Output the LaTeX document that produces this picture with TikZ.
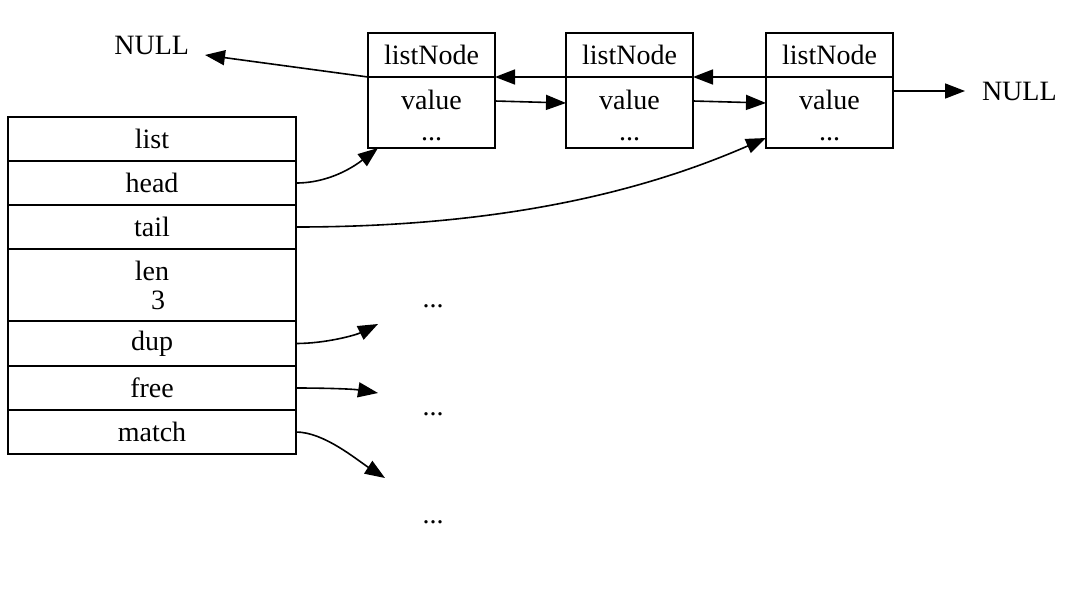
\documentclass[tikz,border=0pt]{standalone}
\usepackage{fontspec}
\setmainfont{Liberation Serif}
\usetikzlibrary{arrows.meta}
\begin{document}
\begin{tikzpicture}[x=0.5pt,y=-0.5pt,
  every node/.style={font=\fontsize{14}{15.5}\selectfont},
  field/.style={draw, line width=0.8pt, minimum width=144pt, minimum height=22pt,
    inner sep=0pt, outer sep=0pt, anchor=north west, align=center},
  nodehead/.style={draw, line width=0.8pt, minimum width=63.5pt, minimum height=22pt,
    inner sep=0pt, outer sep=0pt, anchor=north west},
  nodebody/.style={draw, line width=0.8pt, minimum width=63.5pt, minimum height=35.5pt,
    inner sep=0pt, outer sep=0pt, anchor=north west, align=center},
  plain/.style={inner sep=0pt, outer sep=0pt},
  arr/.style={line width=0.8pt, -{Triangle[length=10pt,width=7.5pt]}}
]
\useasboundingbox (0,0) rectangle (1079,594);

% list structure
\node[field] (list) at (8,117) {list};
\node[field] (head) at (8,161) {head};
\node[field] (tail) at (8,205) {tail};
\node[field, minimum height=36pt] (len) at (8,249) {len\\[-1pt]\hspace*{6pt}3};
\node[field, minimum height=22.5pt] (dup) at (8,321) {dup};
\node[field] (free) at (8,366) {free};
\node[field] (match) at (8,410) {match};

% list nodes
\node[nodehead] (n1h) at (368,33) {listNode};
\node[nodebody] (n1b) at (368,77) {\rule{0pt}{12.5pt}value\\...};
\node[nodehead] (n2h) at (566,33) {listNode};
\node[nodebody] (n2b) at (566,77) {\rule{0pt}{12.5pt}value\\...};
\node[nodehead] (n3h) at (766,33) {listNode};
\node[nodebody] (n3b) at (766,77) {\rule{0pt}{12.5pt}value\\...};

% NULL labels
\node[plain, anchor=east] (nullL) at (189,45) {NULL};
\coordinate (nullLtip) at (205,55);
\node[plain, anchor=west, inner xsep=8.5pt] (nullR) at (965,91) {NULL};

% dots
\node[plain] (dots1) at (433,306) {...};
\node[plain] (dots2) at (433,414) {...};
\node[plain] (dots3) at (433,522) {...};
\coordinate (dupEnd) at (378,324);
\coordinate (freeEnd) at (378,393);
\coordinate (matchEnd) at (385,478);

% links between list nodes
\draw[arr] (n1h.south west) -- (nullLtip);
\draw[arr] (n2h.south west) -- (n1h.south east);
\draw[arr] (n3h.south west) -- (n2h.south east);
\draw[arr] ([yshift=-12pt]n1b.north east) -- ([yshift=-13pt]n2b.north west);
\draw[arr] ([yshift=-12pt]n2b.north east) -- ([yshift=-13pt]n3b.north west);
\draw[arr] ([yshift=-7pt]n3b.north east) -- (nullR.west);

% pointers from list
\draw[arr] (head.east) .. controls +(35,0) and +(-22,17) .. ([xshift=5pt]n1b.south west);
\draw[arr] (tail.east) .. controls +(220,0) and +(-110,48) .. ([yshift=5pt]n3b.south west);
\draw[arr] (dup.east) .. controls +(30,0) and +(-22,11) .. (dupEnd);
\draw[arr] (free.east) .. controls +(30,0) and +(-25,-4) .. (freeEnd);
\draw[arr] (match.east) .. controls +(28,0) and +(-28,-18) .. (matchEnd);
\end{tikzpicture}
\end{document}
